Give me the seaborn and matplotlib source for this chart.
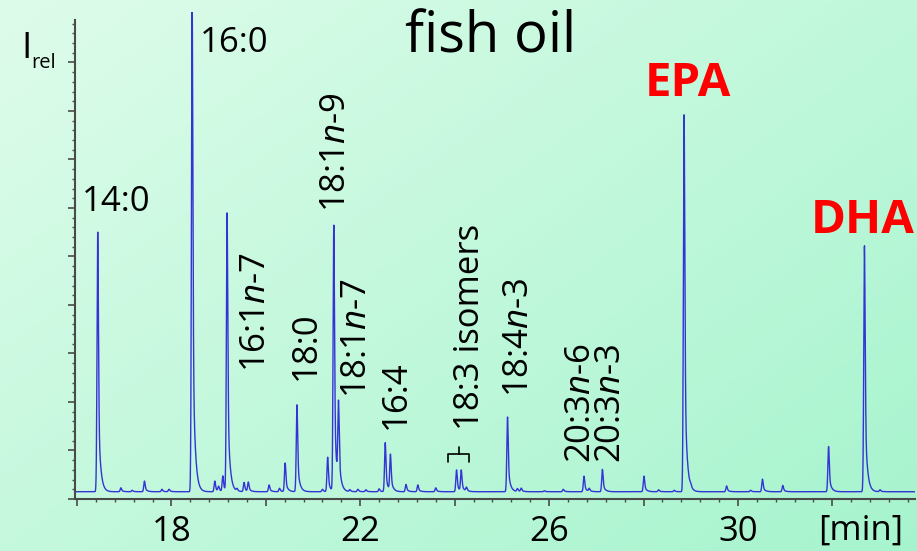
import numpy as np
import pandas as pd
import matplotlib
matplotlib.use("Agg")
import matplotlib.pyplot as plt
import seaborn as sns
from matplotlib.ticker import MultipleLocator, FixedLocator
from matplotlib.lines import Line2D

# ---------------- data ----------------
peak_times = [16.44, 16.93, 17.17, 17.43, 17.80, 17.95, 18.44, 18.92, 19.00, 19.09,
              19.18, 19.39, 19.54, 19.63, 20.07, 20.29, 20.41, 20.66, 21.20, 21.31,
              21.44, 21.54, 21.78, 21.95, 22.12, 22.40, 22.53, 22.64, 22.97, 23.22,
              23.60, 24.04, 24.14, 24.25, 25.12, 25.33, 25.41, 25.90, 26.30, 26.74,
              26.85, 27.13, 28.01, 28.32, 28.65, 28.86, 29.00, 29.76, 30.27, 30.52,
              30.95, 31.92, 32.68, 33.01]
peak_heights = [5.35, 0.08, 0.03, 0.22, 0.05, 0.05, 10.2, 0.22, 0.10, 0.32,
                5.73, 0.05, 0.19, 0.19, 0.14, 0.07, 0.59, 1.79, 0.05, 0.71,
                5.48, 1.65, 0.04, 0.05, 0.04, 0.06, 1.01, 0.74, 0.15, 0.14,
                0.08, 0.45, 0.43, 0.08, 1.54, 0.06, 0.07, 0.02, 0.05, 0.32,
                0.06, 0.46, 0.32, 0.04, 0.03, 7.77, 0.05, 0.12, 0.03, 0.26,
                0.13, 0.93, 5.07, 0.04]
baseline = 0.15

x_tick_values = [16, 18, 20, 22, 24, 26, 28, 30, 32]
x_tick_labels = ["", "18", "", "22", "", "26", "", "30", ""]

labels_horizontal = ["14:0", "16:0"]
labels_rotated = ["16:1$n$-7", "18:0", "18:1$n$-9", "18:1$n$-7", "16:4",
                  "18:3 isomers", "18:4$n$-3", "20:3$n$-6", "20:3$n$-3"]
title_text = "fish oil"
highlight_labels = ["EPA", "DHA"]

# ---------------- chromatogram trace ----------------
time = np.arange(15.96, 33.75, 0.002)
sigma, tail_frac, tau = 0.015, 0.4, 0.045
signal = np.full_like(time, baseline)
for t0, h in zip(peak_times, peak_heights):
    d = time - t0
    g = np.exp(-0.5 * (d / sigma) ** 2)
    tail = np.where(d >= 0, np.exp(-np.clip(d, 0, None) / tau), g)
    signal += h * ((1 - tail_frac) * g + tail_frac * tail)
df = pd.DataFrame({"time": time, "signal": signal})

# ---------------- figure ----------------
sns.set_theme(style="white")
plt.rcParams["font.family"] = ["Open Sans", "DejaVu Sans"]
plt.rcParams["text.color"] = "black"
plt.rcParams["xtick.color"] = "black"
plt.rcParams["mathtext.fontset"] = "custom"
plt.rcParams["mathtext.rm"] = "Open Sans"
plt.rcParams["mathtext.it"] = "Open Sans:italic"

W, H = 917, 551
fig = plt.figure(figsize=(W / 100, H / 100), dpi=100)

def fx(px):
    return px / W

def fy(py):
    return 1 - py / H

# gradient background
bg = fig.add_axes([0, 0, 1, 1], zorder=-10)
yy, xx = np.mgrid[0:1:H * 1j, 0:1:W * 1j]
tt = np.clip(0.55 * xx + 0.45 * yy, 0, 1)
c0 = np.array([222, 252, 234]) / 255
c1 = np.array([166, 244, 206]) / 255
img = c0 + (c1 - c0) * tt[..., None]
bg.imshow(img, aspect="auto", extent=[0, 1, 0, 1])
bg.axis("off")

ax = fig.add_axes([fx(75), fy(499), fx(915) - fx(75), fy(12) - fy(499)])
ax.patch.set_alpha(0)

sns.lineplot(data=df, x="time", y="signal", ax=ax, color="#3434d6",
             linewidth=1.0, estimator=None, sort=False, legend=False)

ax.set_xlim(15.958, 33.75)
ax.set_ylim(0, 10.04)
ax.set_xlabel("")
ax.set_ylabel("")

for s in ["top", "right"]:
    ax.spines[s].set_visible(False)
for s in ["left", "bottom"]:
    ax.spines[s].set_color("#4a4a4a")
    ax.spines[s].set_linewidth(1.5)
ax.spines["left"].set_bounds(0, 9.88)

ax.set_xticks(x_tick_values)
ax.set_xticklabels(x_tick_labels, fontsize=25, color="black")
ax.xaxis.set_minor_locator(MultipleLocator(0.4))
ax.yaxis.set_major_locator(FixedLocator(np.arange(0, 10, 1)))
ax.yaxis.set_minor_locator(FixedLocator(np.arange(0, 9.9, 0.2)))
ax.tick_params(axis="both", which="major", direction="out", length=5, width=1.2,
               color="#4a4a4a", bottom=True, left=True, labelleft=False, pad=6.5,
               labelcolor="black")
ax.tick_params(axis="both", which="minor", direction="out", length=2.3, width=1.0,
               color="#4a4a4a", bottom=True, left=True)

# axis labels
fig.text(fx(21), fy(58), "I", fontsize=26.5, va="baseline", ha="left", color="black")
fig.text(fx(31), fy(68), "rel", fontsize=14.5, va="baseline", ha="left", color="black")
fig.text(fx(861), fy(540), "[min]", fontsize=25, va="baseline", ha="center", color="black")

# title
fig.text(fx(491), fy(53), title_text, fontsize=40.5, va="baseline", ha="center",
         color="black")

# horizontal peak labels
fig.text(fx(82), fy(211), labels_horizontal[0], fontsize=25, va="baseline", ha="left",
         color="black")
fig.text(fx(200), fy(52), labels_horizontal[1], fontsize=25, va="baseline", ha="left",
         color="black")

# EPA / DHA
fig.text(fx(688), fy(96), highlight_labels[0], fontsize=34, fontweight="bold",
         color="#ff0000", va="baseline", ha="center")
fig.text(fx(863), fy(233), highlight_labels[1], fontsize=34, fontweight="bold",
         color="#ff0000", va="baseline", ha="center")

# rotated labels: (baseline x, bottom y) in pixels
rot_pos = [(265, 372), (315, 380), (345, 212), (366, 398), (405, 429),
           (479, 430), (528, 397), (590, 463), (620, 463)]
for txt, (px, py) in zip(labels_rotated, rot_pos):
    fig.text(fx(px), fy(py), txt, fontsize=25, rotation=90, rotation_mode="anchor",
             ha="left", va="baseline", color="black")

# bracket for 18:3 isomers
bx = [448, 448, 469, 469]
by = [462, 454, 454, 462]
fig.add_artist(Line2D([fx(v) for v in bx], [fy(v) for v in by], color="black", lw=1.2))
fig.add_artist(Line2D([fx(459), fx(459)], [fy(454), fy(447)], color="black", lw=1.2))

fig.savefig("out.png", dpi=100)
